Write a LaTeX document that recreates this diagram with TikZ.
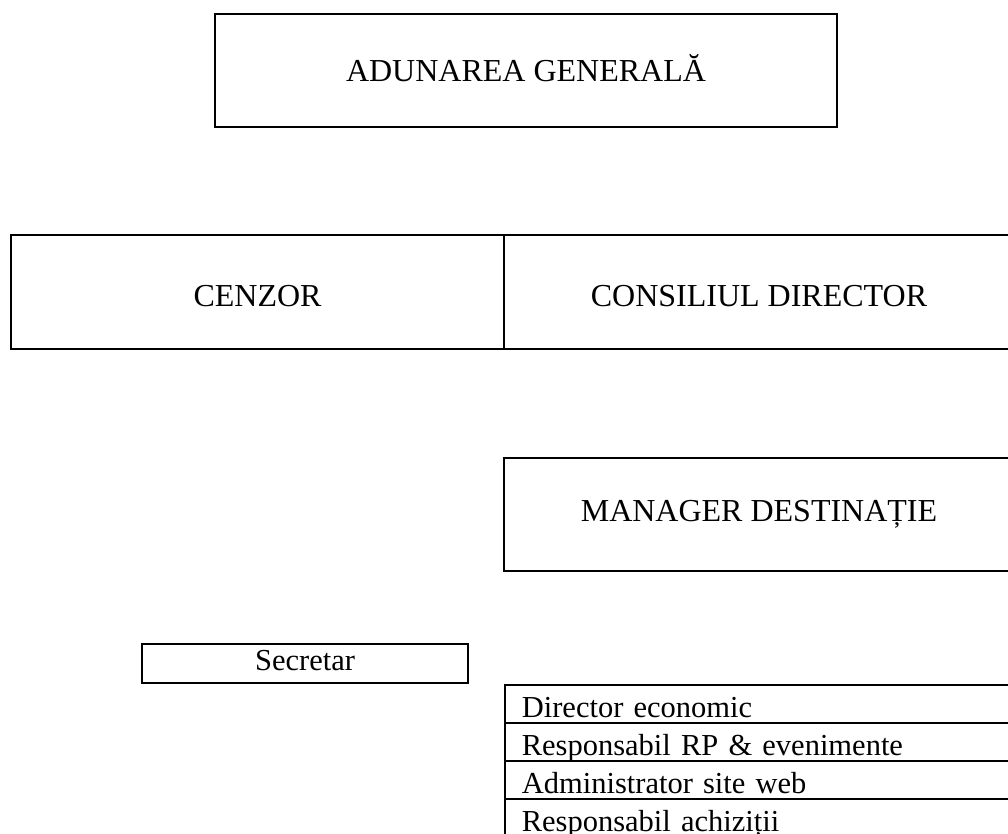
\documentclass[tikz,border=0pt]{standalone}
\usepackage{fontspec}
\setmainfont{Liberation Serif}
\begin{document}
\begin{tikzpicture}[x=1pt,y=-1pt,
  box/.style={draw, line width=1.6pt, inner sep=0pt, align=center},
  head/.style={box, font=\fontsize{32}{36}\selectfont},
  rowbox/.style={draw, line width=1.6pt, inner xsep=17pt, inner ysep=0pt,
    text width=476pt, align=left, minimum height=38pt, anchor=north west,
    text height=30pt, text depth=2pt, font=\fontsize{30.5}{34}\selectfont}]
\useasboundingbox (0,0) rectangle (1008,834);
\clip (0,0) rectangle (1008,834);
\node[head, minimum width=622pt, minimum height=113pt, text height=24pt, text depth=1pt]
  (ag) at (526,70.5) {ADUNAREA GENERALĂ};
\node[head, minimum width=493pt, minimum height=114pt, text height=30pt, text depth=2pt]
  (cenzor) at (257.5,292) {CENZOR};
\node[head, minimum width=510pt, minimum height=114pt, text height=30pt, text depth=2pt]
  (cd) at (759,292) {CONSILIUL DIRECTOR};
\node[head, minimum width=510pt, minimum height=113pt, text height=24pt, text depth=9.6pt]
  (md) at (759,514.5) {MANAGER DESTINAȚIE};
\node[box, minimum width=326pt, minimum height=39pt, text height=16pt, text depth=3pt,
  font=\fontsize{30.5}{34}\selectfont] (sec) at (305,663.5) {Secretar};
\node[rowbox] (r1) at (504,684) {Director economic};
\node[rowbox] (r2) at (504,722) {Responsabil RP \& evenimente};
\node[rowbox] (r3) at (504,760) {Administrator site web};
\node[rowbox] (r4) at (504,798) {Responsabil achiziții};
\end{tikzpicture}
\end{document}
